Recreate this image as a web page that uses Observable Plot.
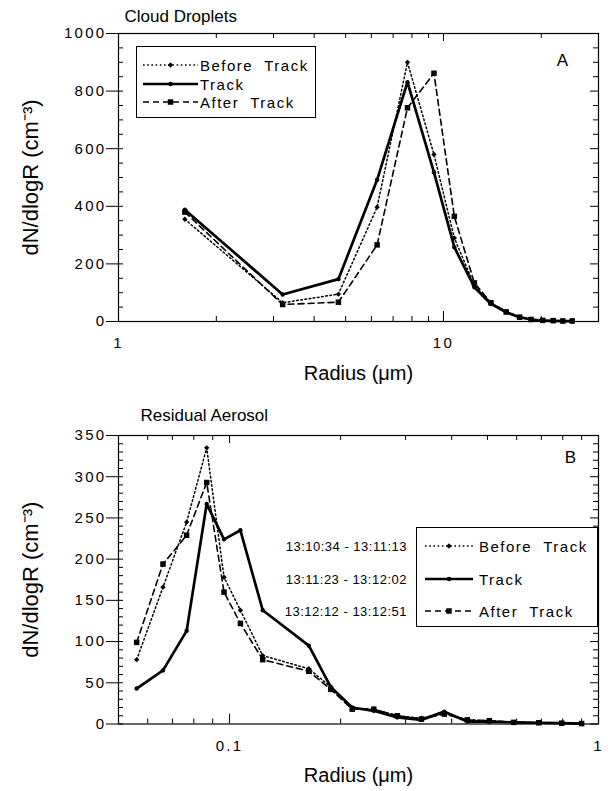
<!DOCTYPE html>
<html>
<head>
<meta charset="utf-8">
<script src="https://cdn.jsdelivr.net/npm/d3@7"></script>
<script src="https://cdn.jsdelivr.net/npm/@observablehq/plot@0.6"></script>
<style>
body{margin:0;background:#fff;}
#wrap{position:relative;width:612px;height:791px;font-family:"Liberation Sans",Arial,sans-serif;color:#000;overflow:hidden;}
#wrap svg{display:block;}
#wrap g[aria-label="y-axis tick label"] text,#wrap g[aria-label="x-axis tick label"] text{letter-spacing:2.3px;}
#wrap g[aria-label="title"] text{letter-spacing:2.4px;}
#wrap g[aria-label="xlabel"] text{letter-spacing:1.8px;}
#wrap g[aria-label="ylabel"] text{letter-spacing:0.4px;}
.box{position:absolute;border:1px solid #000;background:#fff;box-sizing:border-box;}
.lt{position:absolute;white-space:pre;line-height:1;transform:translateY(-50%);}
.leg{font-size:15px;letter-spacing:1.5px;}
.tm{font-size:13px;letter-spacing:0.5px;transform:translate(-100%,-50%);}
.ls{position:absolute;overflow:visible;}
</style>
</head>
<body>
<div id="wrap"></div>
<script>
// ---------- data ----------
const seriesNames = ["Before  Track", "Track", "After  Track"];
const timeLabels = ["13:10:34 - 13:11:13", "13:11:23 - 13:12:02", "13:12:12 - 13:12:51"];

// Panel A: cloud droplets
const cloudRadius = [1.6, 3.2, 4.75, 6.25, 7.75, 9.35, 10.8, 12.45, 14.0, 15.6, 17.15, 18.6, 20.2, 21.75, 23.3, 24.9];
const cloudBefore = [355, 65, 95, 397, 900, 580, 290, 125, 65, 35, 15, 7, 3, 2, 1, 1];
const cloudTrack  = [388, 94, 147, 492, 831, 518, 258, 119, 61, 32, 15, 7, 3, 2, 1, 1];
const cloudAfter  = [380, 59, 67, 266, 742, 862, 365, 134, 65, 33, 15, 7, 4, 3, 2, 2];
const cloudYTicks = [0, 200, 400, 600, 800, 1000];
const cloudYMinor = [50, 100, 150, 250, 300, 350, 450, 500, 550, 650, 700, 750, 850, 900, 950];
const cloudXTicks = [1, 10];
const cloudXMinor = [2, 3, 4, 5, 6, 7, 8, 9, 20];

// Panel B: residual aerosol
const aerosolRadius = [0.056, 0.066, 0.0765, 0.0867, 0.0966, 0.107, 0.123, 0.164, 0.188, 0.215, 0.246, 0.285, 0.331, 0.382, 0.441, 0.506, 0.589, 0.689, 0.795, 0.90];
const aerosolBefore = [78, 166, 245, 335, 178, 138, 83, 67, 45, 18, 18, 10, 7, 13, 5, 4, 2, 1.5, 1, 0.5];
const aerosolTrack  = [43, 65, 113, 267, 224, 235, 138, 95, 45, 20, 16, 8, 5, 15, 3, 3, 2, 1.5, 1, 0.5];
const aerosolAfter  = [99, 194, 229, 293, 160, 122, 78, 64, 42, 18, 18, 10, 6, 12, 5, 4, 2, 1.5, 1, 0.5];
const aerosolYTicks = [0, 50, 100, 150, 200, 250, 300, 350];
const aerosolYMinor = [10,20,30,40,60,70,80,90,110,120,130,140,160,170,180,190,210,220,230,240,260,270,280,290,310,320,330,340];
const aerosolXTicks = [0.1, 1];
const aerosolXMinor = [0.06, 0.07, 0.08, 0.09, 0.2, 0.3, 0.4, 0.5, 0.6, 0.7, 0.8, 0.9];

// ---------- styles ----------
const styles = [
  {dash: "1.6,2.6", width: 1.5, symbol: "diamond2", r: 2.4},
  {dash: null, width: 2.7, symbol: "circle", r: 2.2},
  {dash: "6,4", width: 1.6, symbol: "square", r: 3.1}
];

const ML = 118, MR = 14, WIDTH = 612;
const FW = WIDTH - ML - MR;

function panel(o) {
  const H = o.height - o.marginTop - o.marginBottom;
  const seriesVals = [o.before, o.track, o.after];
  const marks = [];
  // inward ticks
  marks.push(Plot.tickY(o.yMinor, {y: d => d, insetRight: FW - 5, stroke: "#000"}));
  marks.push(Plot.tickY(o.yTicks, {y: d => d, insetRight: FW - 5, stroke: "#000"}));
  marks.push(Plot.tickY(o.yMinor, {y: d => d, insetLeft: FW - 5, stroke: "#000"}));
  marks.push(Plot.tickY(o.yTicks, {y: d => d, insetLeft: FW - 8, stroke: "#000"}));
  marks.push(Plot.tickX(o.xMinor, {x: d => d, insetTop: H - 5, stroke: "#000"}));
  marks.push(Plot.tickX(o.xMinor, {x: d => d, insetBottom: H - 5, stroke: "#000"}));
  marks.push(Plot.tickX(o.xTicks, {x: d => d, insetTop: H - 10, stroke: "#000"}));
  marks.push(Plot.tickX(o.xTicks, {x: d => d, insetBottom: H - 8, stroke: "#000"}));
  marks.push(Plot.frame({stroke: "#000", strokeWidth: 1.2}));
  seriesVals.forEach((vals, s) => {
    const data = o.radius.map((r, i) => ({r, v: vals[i]}));
    const st = styles[s];
    marks.push(Plot.line(data, {x: "r", y: "v", stroke: "#000", strokeWidth: st.width, strokeDasharray: st.dash}));
    marks.push(Plot.dot(data, {x: "r", y: "v", symbol: st.symbol, r: st.r, fill: "#000", stroke: "none"}));
  });
  marks.push(Plot.axisY({anchor: "left", ticks: o.yTicks, tickSize: 12, tickPadding: 0, fontSize: 15, label: null, tickFormat: d => String(d)}));
  marks.push(Plot.axisX({anchor: "bottom", ticks: o.xTicks, tickSize: 0, tickPadding: 16, fontSize: 15, label: null, tickFormat: d => String(d)}));
  marks.push(Plot.text([o.title], {text: d => d, frameAnchor: "top-left", dx: o.titleDx, dy: o.titleDy, textAnchor: "start", lineAnchor: "middle", fontSize: 17, ariaLabel: "title"}));
  marks.push(Plot.text([o.letter], {text: d => d, frameAnchor: "top-right", dx: o.letterDx, dy: o.letterDy, textAnchor: "middle", lineAnchor: "middle", fontSize: 17, ariaLabel: "title"}));
  marks.push(Plot.text(["Radius (μm)"], {text: d => d, frameAnchor: "bottom", dy: o.xLabelDy, textAnchor: "middle", lineAnchor: "middle", fontSize: 20, ariaLabel: "xlabel"}));
  marks.push(Plot.text(["dN/dlogR (cm⁻³)"], {text: d => d, frameAnchor: "left", dx: -88, rotate: -90, textAnchor: "middle", lineAnchor: "middle", fontSize: 22, ariaLabel: "ylabel"}));
  return Plot.plot({
    width: WIDTH, height: o.height,
    marginLeft: ML, marginRight: MR, marginTop: o.marginTop, marginBottom: o.marginBottom,
    x: {type: "log", domain: o.xDomain},
    y: {type: "linear", domain: o.yDomain},
    style: {fontFamily: "'Liberation Sans', Arial, sans-serif", color: "#000", background: "#fff", overflow: "visible"},
    marks
  });
}

const wrap = document.getElementById("wrap");

wrap.appendChild(panel({
  height: 395, marginTop: 33, marginBottom: 74,
  xDomain: [1, 30], yDomain: [0, 1000],
  radius: cloudRadius, before: cloudBefore, track: cloudTrack, after: cloudAfter,
  yTicks: cloudYTicks, yMinor: cloudYMinor, xTicks: cloudXTicks, xMinor: cloudXMinor,
  title: "Cloud Droplets", titleDx: 6, titleDy: -16.5,
  letter: "A", letterDx: -36, letterDy: 27, xLabelDy: 52
}));

wrap.appendChild(panel({
  height: 396, marginTop: 40, marginBottom: 67.5,
  xDomain: [0.05, 1], yDomain: [0, 350],
  radius: aerosolRadius, before: aerosolBefore, track: aerosolTrack, after: aerosolAfter,
  yTicks: aerosolYTicks, yMinor: aerosolYMinor, xTicks: aerosolXTicks, xMinor: aerosolXMinor,
  title: "Residual Aerosol", titleDx: 22, titleDy: -20,
  letter: "B", letterDx: -28, letterDy: 22, xLabelDy: 51.5
}));

// ---------- legends ----------
function legend(box, rowsY, lineX1, lineX2, textX, withTimes) {
  const b = document.createElement("div");
  b.className = "box";
  Object.assign(b.style, {left: box[0] + "px", top: box[1] + "px", width: box[2] + "px", height: box[3] + "px"});
  wrap.appendChild(b);
  seriesNames.forEach((name, i) => {
    const st = styles[i];
    const w = lineX2 - lineX1;
    const svg = d3.create("svg").attr("class", "ls").attr("width", w).attr("height", 14)
      .style("left", lineX1 + "px").style("top", (rowsY[i] - 7) + "px");
    svg.append("line").attr("x1", 0).attr("x2", w).attr("y1", 7).attr("y2", 7)
      .attr("stroke", "#000").attr("stroke-width", st.width).attr("stroke-dasharray", st.dash);
    const sym = {circle: d3.symbolCircle, square: d3.symbolSquare, diamond2: d3.symbolDiamond2}[st.symbol];
    svg.append("path").attr("transform", `translate(${w / 2},7)`)
      .attr("d", d3.symbol(sym, Math.PI * st.r * st.r)()).attr("fill", "#000");
    wrap.appendChild(svg.node());
    const t = document.createElement("div");
    t.className = "lt leg";
    t.textContent = name;
    Object.assign(t.style, {left: textX + "px", top: rowsY[i] + "px"});
    wrap.appendChild(t);
    if (withTimes) {
      const tt = document.createElement("div");
      tt.className = "lt tm";
      tt.textContent = timeLabels[i];
      Object.assign(tt.style, {left: "407px", top: rowsY[i] + "px"});
      wrap.appendChild(tt);
    }
  });
}
legend([136, 46, 180, 72], [65, 83.5, 102], 143, 198, 200, false);
legend([416, 527, 182, 100], [546, 579, 611], 425, 473, 479, true);
</script>
</body>
</html>
